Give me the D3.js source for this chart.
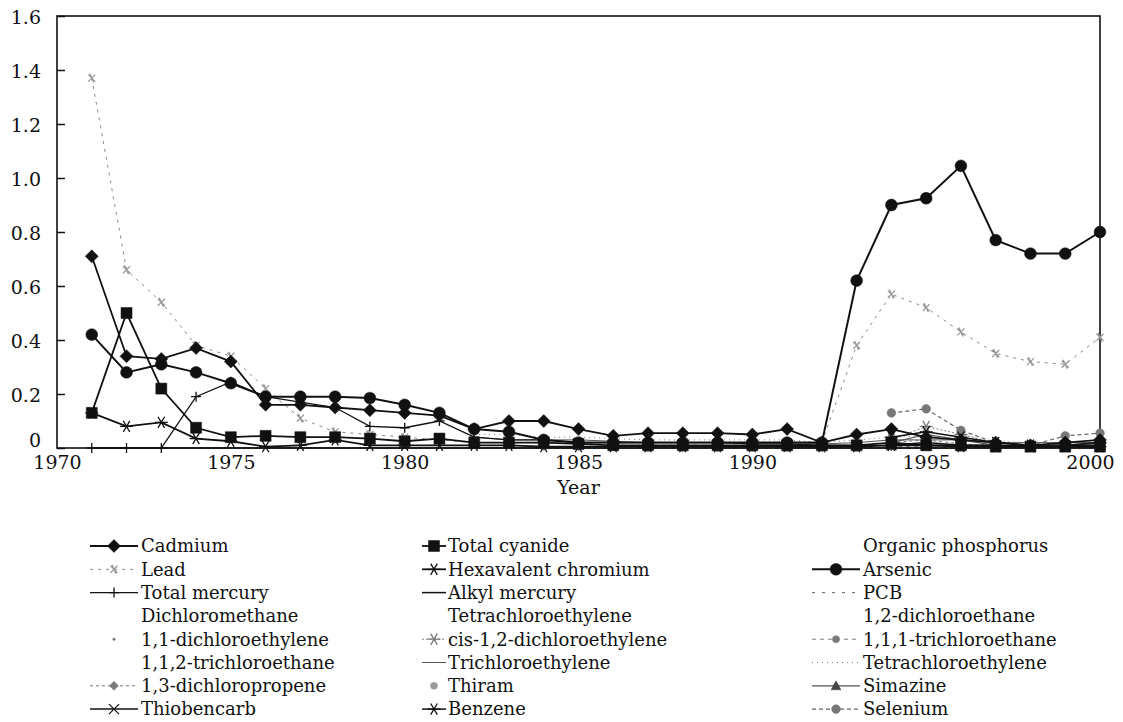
<!DOCTYPE html>
<html>
<head>
<meta charset="utf-8">
<script src="https://cdn.jsdelivr.net/npm/d3@7"></script>
<style>
  body { margin: 0; background: #fff; }
  svg text { font-family: "DejaVu Serif", serif; fill: #111; }
</style>
</head>
<body>
<div id="chart"></div>
<script>
//Data (year by year)
const years = [1971, 1972, 1973, 1974, 1975, 1976, 1977, 1978, 1979, 1980,
               1981, 1982, 1983, 1984, 1985, 1986, 1987, 1988, 1989, 1990,
               1991, 1992, 1993, 1994, 1995, 1996, 1997, 1998, 1999, 2000];
const xTicks = [1970, 1975, 1980, 1985, 1990, 1995, 2000];
const yTicks = [0, 0.2, 0.4, 0.6, 0.8, 1.0, 1.2, 1.4, 1.6];

//heavy metals etc, from 1971
const cadmium = [0.71, 0.34, 0.33, 0.37, 0.32, 0.16, 0.16, 0.15, 0.14, 0.13,
                 0.12, 0.07, 0.10, 0.10, 0.07, 0.045, 0.055, 0.055, 0.055, 0.05,
                 0.07, 0.02, 0.05, 0.07, 0.04, 0.03, 0.02, 0.01, 0.02, 0.03];
const totalCyanide = [0.13, 0.50, 0.22, 0.075, 0.04, 0.045, 0.04, 0.04, 0.035, 0.025,
                      0.035, 0.02, 0.02, 0.02, 0.015, 0.01, 0.01, 0.01, 0.01, 0.01,
                      0.01, 0.01, 0.01, 0.02, 0.01, 0.01, 0.005, 0.005, 0.005, 0.005];
const organicPhosphorus = [0, 0, 0, 0, 0, 0, 0, 0, 0, 0, 0,
                           0, 0, 0, 0, 0, 0, 0, 0, 0, 0, 0];
const lead = [1.37, 0.66, 0.54, 0.38, 0.34, 0.22, 0.11, 0.06, 0.05, 0.04,
              0.03, 0.02, 0.02, 0.02, 0.02, 0.01, 0.01, 0.01, 0.01, 0.01,
              0.01, 0.02, 0.38, 0.57, 0.52, 0.43, 0.35, 0.32, 0.31, 0.41];
const hexChromium = [0.13, 0.08, 0.095, 0.035, 0.025, 0.005, 0.01, 0.03, 0.01, 0.01,
                     0.01, 0.01, 0.01, 0.005, 0.005, 0.005, 0.005, 0.005, 0.005, 0.005,
                     0.005, 0.005, 0.005, 0.01, 0.01, 0.005, 0.005, 0.005, 0.005, 0.005];
const arsenic = [0.42, 0.28, 0.31, 0.28, 0.24, 0.19, 0.19, 0.19, 0.185, 0.16,
                 0.13, 0.07, 0.06, 0.03, 0.02, 0.02, 0.02, 0.02, 0.02, 0.02,
                 0.02, 0.02, 0.62, 0.90, 0.925, 1.045, 0.77, 0.72, 0.72, 0.80];
const totalMercury = [0, 0, 0, 0.19, 0.245, 0.19, 0.17, 0.15, 0.08, 0.075,
                      0.10, 0.04, 0.03, 0.03, 0.02, 0.02, 0.02, 0.02, 0.02, 0.015,
                      0.015, 0.01, 0.01, 0.01, 0.01, 0.01, 0.01, 0.01, 0.01, 0.01];
const alkylMercury = [0, 0, 0, 0, 0, 0, 0, 0, 0, 0,
                      0, 0, 0, 0, 0, 0, 0, 0, 0, 0,
                      0, 0, 0, 0, 0, 0, 0, 0, 0, 0];
//PCB from 1975
const pcb = [0, 0, 0, 0, 0, 0, 0, 0, 0, 0, 0, 0, 0,
             0, 0, 0, 0, 0, 0, 0, 0, 0, 0, 0, 0, 0];
//solvents from 1982
const trichloroethylene = [0.04, 0.03, 0.03, 0.03, 0.025, 0.02, 0.02, 0.02, 0.02, 0.02,
                           0.015, 0.02, 0.03, 0.03, 0.03, 0.02, 0.02, 0.02, 0.02];
const tetrachloroethyleneB = [0.05, 0.05, 0.04, 0.04, 0.035, 0.03, 0.03, 0.03, 0.03, 0.03,
                              0.02, 0.03, 0.04, 0.045, 0.035, 0.025, 0.02, 0.02, 0.03];
const trichloroethane111 = [0.01, 0.01, 0.005, 0.005, 0.005, 0, 0, 0, 0, 0,
                            0, 0, 0.005, 0.005, 0, 0, 0, 0, 0];
//items added to the standard, from 1994
const dichloromethane = [0, 0, 0, 0, 0, 0, 0];
const tetrachloroethyleneA = [0, 0, 0, 0, 0, 0, 0];
const dichloroethane12 = [0, 0, 0, 0, 0, 0, 0];
const dichloroethylene11 = [0.005, 0.01, 0.005, 0, 0, 0.005, 0.005];
const cisDichloroethylene = [0.03, 0.08, 0.05, 0.02, 0.01, 0.02, 0.02];
const trichloroethane112 = [0, 0, 0, 0, 0, 0, 0];
const dichloropropene13 = [0.02, 0.03, 0.015, 0.01, 0.005, 0.01, 0.01];
const thiram = [0.01, 0.02, 0.01, 0.005, 0, 0.005, 0.01];
const simazine = [0.02, 0.05, 0.03, 0.01, 0.01, 0.01, 0.02];
const thiobencarb = [0.01, 0.02, 0.01, 0.01, 0.005, 0.01, 0.01];
const benzene = [0.04, 0.06, 0.04, 0.02, 0.01, 0.01, 0.02];
const selenium = [0.13, 0.145, 0.065, 0.02, 0.01, 0.045, 0.055];

//series table (legend order, row by row)
const black = '#111';
const gray = '#7a7a7a';
const seriesList = [
  { name: 'Cadmium', start: 1971, values: cadmium, stroke: black, width: 1.8, marker: 'diamond' },
  { name: 'Total cyanide', start: 1971, values: totalCyanide, stroke: black, width: 1.8, marker: 'square' },
  { name: 'Organic phosphorus', start: 1971, values: organicPhosphorus, stroke: 'none' },
  { name: 'Lead', start: 1971, values: lead, stroke: '#8a8a8a', width: 1, dash: '3,5', marker: 'leadX', mcolor: '#999' },
  { name: 'Hexavalent chromium', start: 1971, values: hexChromium, stroke: black, width: 1.8, marker: 'asterisk' },
  { name: 'Arsenic', start: 1971, values: arsenic, stroke: black, width: 2, marker: 'circle' },
  { name: 'Total mercury', start: 1971, values: totalMercury, stroke: black, width: 1.3, marker: 'plus' },
  { name: 'Alkyl mercury', start: 1971, values: alkylMercury, stroke: black, width: 1.5 },
  { name: 'PCB', start: 1975, values: pcb, stroke: '#666', width: 1, dash: '3,7' },
  { name: 'Dichloromethane', start: 1994, values: dichloromethane, stroke: 'none' },
  { name: 'Tetrachloroethylene', start: 1994, values: tetrachloroethyleneA, stroke: 'none' },
  { name: '1,2-dichloroethane', start: 1994, values: dichloroethane12, stroke: 'none' },
  { name: '1,1-dichloroethylene', start: 1994, values: dichloroethylene11, stroke: 'none', marker: 'dot', mcolor: gray },
  { name: 'cis-1,2-dichloroethylene', start: 1994, values: cisDichloroethylene, stroke: gray, width: 1, dash: '2,2', marker: 'asterisk', mcolor: gray },
  { name: '1,1,1-trichloroethane', start: 1982, values: trichloroethane111, stroke: gray, width: 1, dash: '4,4', marker: 'blob', mcolor: gray },
  { name: '1,1,2-trichloroethane', start: 1994, values: trichloroethane112, stroke: 'none' },
  { name: 'Trichloroethylene', start: 1982, values: trichloroethylene, stroke: '#555', width: 1 },
  { name: 'Tetrachloroethylene', start: 1982, values: tetrachloroethyleneB, stroke: gray, width: 1, dash: '1,4' },
  { name: '1,3-dichloropropene', start: 1994, values: dichloropropene13, stroke: gray, width: 1, dash: '3,3', marker: 'diamondSmall', mcolor: gray },
  { name: 'Thiram', start: 1994, values: thiram, stroke: 'none', marker: 'blob', mcolor: '#999' },
  { name: 'Simazine', start: 1994, values: simazine, stroke: '#555', width: 1.2, marker: 'triangle', mcolor: '#444' },
  { name: 'Thiobencarb', start: 1994, values: thiobencarb, stroke: black, width: 1.5, marker: 'times' },
  { name: 'Benzene', start: 1994, values: benzene, stroke: black, width: 1.5, marker: 'asterisk' },
  { name: 'Selenium', start: 1994, values: selenium, stroke: '#666', width: 1.2, dash: '4,3', marker: 'circleSmall', mcolor: '#777' }
];

//marker shapes
const filledMarkers = ['diamond', 'diamondSmall', 'square', 'circle', 'circleSmall', 'triangle', 'dot', 'blob'];
function markerPath(type) {
  switch (type) {
    case 'diamond': return 'M0,-6.5L6.5,0L0,6.5L-6.5,0Z';
    case 'diamondSmall': return 'M0,-4.5L4.5,0L0,4.5L-4.5,0Z';
    case 'square': return 'M-5.5,-5.5H5.5V5.5H-5.5Z';
    case 'circle': return d3.symbol(d3.symbolCircle, 110)();
    case 'circleSmall': return d3.symbol(d3.symbolCircle, 60)();
    case 'triangle': return 'M0,-5L5,4H-5Z';
    case 'dot': return d3.symbol(d3.symbolCircle, 5)();
    case 'blob': return d3.symbol(d3.symbolCircle, 40)();
    case 'asterisk': return 'M-6.5,0H6.5M-3.3,-5.6L3.3,5.6M-3.3,5.6L3.3,-5.6';
    case 'plus': return 'M-5,0H5M0,-5V5';
    case 'times': return 'M-5,-5L5,5M-5,5L5,-5';
    case 'leadX': return 'M-3.5,-3.5L3.5,3.5M-3.5,3.5L3.5,-3.5M-2,-4.5L2,4.5';
    default: return '';
  }
}

function drawMarker(sel, s) {
  const color = s.mcolor || s.stroke;
  const filled = filledMarkers.includes(s.marker);
  sel.append('path')
    .attr('d', markerPath(s.marker))
    .attr('fill', filled ? color : 'none')
    .attr('stroke', color)
    .attr('stroke-width', filled ? 0.5 : 1.3);
}

//SVG and scales
const width = 1123;
const height = 722;
const svg = d3.select('#chart').append('svg')
  .attr('width', width)
  .attr('height', height);

const x = d3.scaleLinear().domain([1970, 2000]).range([57, 1100]);
const y = d3.scaleLinear().domain([0, 1.6]).range([448, 16]);

//axes
const yAxis = svg.append('g')
  .attr('transform', `translate(${x(1970)},0)`)
  .call(d3.axisLeft(y).tickValues(yTicks).tickSize(-8).tickPadding(16)
    .tickFormat(d => d === 0 ? '0' : d3.format('.1f')(d)));
yAxis.select('.domain').remove();
yAxis.selectAll('line').attr('stroke', '#111').attr('stroke-width', 1.5);
yAxis.selectAll('text').attr('font-size', 19)
  .attr('dy', d => d === 0 ? '-0.08em' : '0.4em');

const xAxis = svg.append('g')
  .attr('transform', `translate(0,${y(0)})`)
  .call(d3.axisBottom(x).tickValues(xTicks).tickSize(0).tickPadding(8).tickFormat(d3.format('d')));
xAxis.select('.domain').remove();
xAxis.selectAll('text').attr('font-size', 19)
  .attr('dx', d => d === 2000 ? -10 : 0);

//frame
svg.append('rect')
  .attr('x', x(1970))
  .attr('y', y(1.6))
  .attr('width', x(2000) - x(1970))
  .attr('height', y(0) - y(1.6))
  .attr('fill', 'none')
  .attr('stroke', '#111')
  .attr('stroke-width', 1.6);

svg.append('text')
  .attr('x', (x(1970) + x(2000)) / 2)
  .attr('y', 494)
  .attr('text-anchor', 'middle')
  .attr('font-size', 19)
  .text('Year');

//lines and markers (gray ones first so black stays on top)
const line = d3.line()
  .x(d => x(d.year))
  .y(d => y(d.v));

const drawOrder = seriesList.slice().sort((a, b) => (a.stroke === black) - (b.stroke === black));
const plot = svg.append('g');

drawOrder.forEach(s => {
  const pts = s.values.map((v, i) => ({ year: s.start + i, v: v }));
  const g = plot.append('g');
  g.append('path')
    .datum(pts)
    .attr('d', line)
    .attr('fill', 'none')
    .attr('stroke', s.stroke)
    .attr('stroke-width', s.width || 1)
    .attr('stroke-dasharray', s.dash || null);
  if (s.marker) {
    g.selectAll('g')
      .data(pts)
      .enter().append('g')
      .attr('transform', d => `translate(${x(d.year)},${y(d.v)})`)
      .each(function () { drawMarker(d3.select(this), s); });
  }
});

//legend: 3 columns, 8 rows
const legendCols = [
  { x0: 90, x1: 138, tx: 141 },
  { x0: 422, x1: 446, tx: 448 },
  { x0: 812, x1: 860, tx: 863 }
];
const rowY = (i) => 546 + i * 23.3;

const legend = svg.append('g');
seriesList.forEach((s, i) => {
  const col = legendCols[i % 3];
  const ly = rowY(Math.floor(i / 3));
  const item = legend.append('g');
  if (s.stroke !== 'none') {
    item.append('line')
      .attr('x1', col.x0).attr('x2', col.x1)
      .attr('y1', ly).attr('y2', ly)
      .attr('stroke', s.stroke)
      .attr('stroke-width', s.width || 1)
      .attr('stroke-dasharray', s.dash || null);
  }
  if (s.marker) {
    item.append('g')
      .attr('transform', `translate(${(col.x0 + col.x1) / 2},${ly})`)
      .call(sel => drawMarker(sel, s));
  }
  item.append('text')
    .attr('x', col.tx)
    .attr('y', ly)
    .attr('dy', '0.35em')
    .attr('font-size', 18)
    .text(s.name);
});
</script>
</body>
</html>
